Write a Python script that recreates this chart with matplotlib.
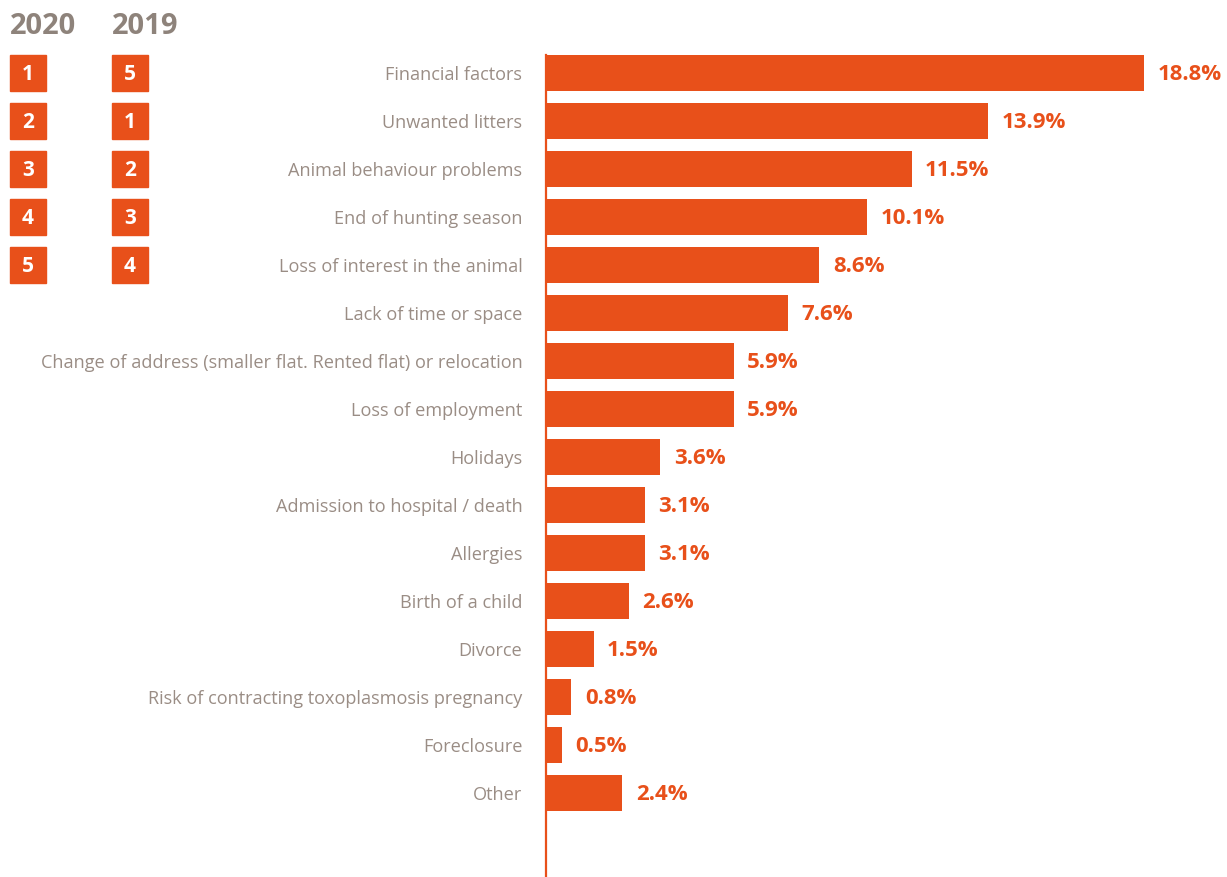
import matplotlib
matplotlib.use("Agg")
import matplotlib.pyplot as plt
from matplotlib.patches import Rectangle
from matplotlib.transforms import blended_transform_factory

# Reasons for giving up an animal (share of cases, %)
reasons = [
    "Financial factors",
    "Unwanted litters",
    "Animal behaviour problems",
    "End of hunting season",
    "Loss of interest in the animal",
    "Lack of time or space",
    "Change of address (smaller flat. Rented flat) or relocation",
    "Loss of employment",
    "Holidays",
    "Admission to hospital / death",
    "Allergies",
    "Birth of a child",
    "Divorce",
    "Risk of contracting toxoplasmosis pregnancy",
    "Foreclosure",
    "Other",
]
shares = [18.8, 13.9, 11.5, 10.1, 8.6, 7.6, 5.9, 5.9, 3.6, 3.1, 3.1, 2.6, 1.5, 0.8, 0.5, 2.4]

# Top-five ranking for 2020 and the rank the same reason held in 2019
rank_years = ["2020", "2019"]
rank_2020 = [1, 2, 3, 4, 5]
rank_2019 = [5, 1, 2, 3, 4]

ORANGE = "#E8501A"
GREY = "#9A8D85"
HEAD_GREY = "#8E837B"
FONT = "Open Sans"

W, H = 1227, 877
fig = plt.figure(figsize=(W / 100, H / 100), dpi=100)
ax = fig.add_axes([546 / W, 0, 1 - 546 / W, 822 / H])

y = list(range(len(reasons)))
ax.barh(y, shares, height=0.75, color=ORANGE, zorder=2)
ax.set_ylim(len(reasons) + 0.75, -0.375)
ax.set_xlim(0, (W - 546) / 31.8)

for yi, v in zip(y, shares):
    ax.text(v + 0.42, yi + 0.04, f"{v}%", va="center", ha="left", color=ORANGE,
            fontsize=16, fontweight="bold", family=FONT)

ax.set_yticks(y)
ax.set_yticklabels(reasons, family=FONT, fontsize=13.1, color=GREY)
for lbl in ax.get_yticklabels():
    lbl.set_y(lbl.get_position()[1])
ax.tick_params(axis="y", length=0, pad=17)
ax.set_xticks([])
for s in ["top", "right", "bottom"]:
    ax.spines[s].set_visible(False)
ax.spines["left"].set_color(ORANGE)
ax.spines["left"].set_linewidth(1.6)

# Rank boxes: x in figure pixels, y in bar data units
trans = blended_transform_factory(fig.transFigure, ax.transData)
col_x = [10 / W, 112 / W]
box_w = 36 / W
for cx, year, ranks in zip(col_x, rank_years, [rank_2020, rank_2019]):
    fig.text(cx, 1 - 27 / H, year, ha="left", va="center", color=HEAD_GREY,
             fontsize=21, fontweight="bold", family=FONT)
    for i, r in enumerate(ranks):
        rect = Rectangle((cx, i - 0.375), box_w, 0.75, transform=trans,
                         color=ORANGE, clip_on=False)
        fig.add_artist(rect)
        fig.text(cx + box_w / 2, i + 0.03, str(r), transform=trans, ha="center",
                 va="center", color="white", fontsize=15, fontweight="bold",
                 family=FONT)

fig.savefig("out.png", dpi=100)
